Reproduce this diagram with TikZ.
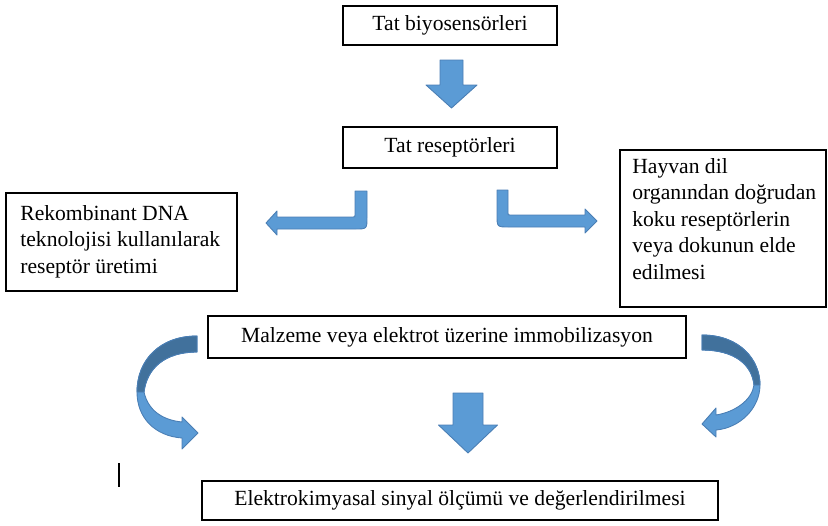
\documentclass[tikz,border=0pt]{standalone}
\usepackage{fontspec}
\setmainfont{Liberation Serif}
\usepackage{tikz}

\definecolor{okmavi}{HTML}{5B9BD5}
\definecolor{okkoyu}{HTML}{41719C}
\definecolor{okkenar}{HTML}{4A7EB4}

\tikzset{
    kutu/.style={draw=black, line width=0.8pt, inner sep=0pt},
    yazi/.style={inner sep=0pt, align=left, anchor=north west},
    blok/.style={fill=okmavi, draw=okkenar, line width=0.5pt, line join=round},
    arka/.style={fill=okkoyu, draw=okkenar, line width=0.5pt}
}

\begin{document}
\begin{tikzpicture}[x=0.02cm, y=-0.02cm]
        \useasboundingbox (0,0) rectangle (828,525);
        \begin{scope}[font=\fontsize{12.3}{15.1}\selectfont]
        % Boxes:
        % each box is a named node, sizes taken from the drawing
        \node[kutu, minimum width={214*0.02cm}, minimum height={39*0.02cm}]
            (biyo) at (450,25.5) {Tat biyosensörleri};
        \node[kutu, minimum width={214*0.02cm}, minimum height={41*0.02cm}]
            (resep) at (450,147.5) {Tat reseptörleri};
        \node[kutu, minimum width={231*0.02cm}, minimum height={98*0.02cm}]
            (rekom) at (121.5,242) {};
        \node[yazi] (rekomyazi) at (20,205)
            {Rekombinant DNA\\teknolojisi kullanılarak\\reseptör üretimi};
        \node[kutu, minimum width={206*0.02cm}, minimum height={157*0.02cm}]
            (hayvan) at (723,228.5) {};
        \node[yazi] (hayvanyazi) at (632,158)
            {Hayvan dil\\organından doğrudan\\koku reseptörlerin\\veya dokunun elde\\edilmesi};
        \node[kutu, minimum width={478*0.02cm}, minimum height={42*0.02cm}]
            (immob) at (447,337) {Malzeme veya elektrot üzerine immobilizasyon};
        \node[kutu, minimum width={516*0.02cm}, minimum height={39*0.02cm}]
            (olcum) at (460,500.5) {Elektrokimyasal sinyal ölçümü ve değerlendirilmesi};

        % straight down arrows
        \foreach \cx/\ust/\orta/\uc/\sw/\hw in {451.5/60/85/108/11.5/25.5, 468/393/425/453/15/29.5} {
                \draw[blok] (\cx-\sw,\ust) -- (\cx+\sw,\ust) -- (\cx+\sw,\orta)
                    -- (\cx+\hw,\orta) -- (\cx,\uc) -- (\cx-\hw,\orta)
                    -- (\cx-\sw,\orta) -- cycle;
        }

        % bent arrows
        \draw[blok] (355,191) -- (367,191) -- (367,217)
            .. controls (367,229) .. (355,229) -- (277,229) -- (277,235)
            -- (266,223) -- (277,211) -- (277,217) -- (353,217)
            .. controls (355,217) .. (355,215) -- cycle;
        \draw[blok] (497,190) -- (497,215)
            .. controls (497,227) .. (509,227) -- (585,227) -- (585,233)
            -- (597,221) -- (585,209) -- (585,215) -- (510,215)
            .. controls (508,215) .. (508,213) -- (508,190) -- cycle;

        % curved arrows
        \draw[blok] (197,336) .. controls (160,336) and (137,360) .. (137,392)
            .. controls (137,418) and (155,436) .. (182,438) -- (182,449)
            -- (198,433) -- (182,417) -- (182,422)
            .. controls (162,420) and (148,410) .. (144,392)
            .. controls (147,368) and (165,352) .. (197,352) -- cycle;
        \draw[arka] (197,336) .. controls (160,336) and (137,360) .. (137,392)
            -- (144,392) .. controls (147,368) and (165,352) .. (197,352) -- cycle;
        \draw[blok] (702,335) .. controls (740,335) and (760,360) .. (760,385)
            .. controls (760,408) and (740,428) .. (716,430) -- (716,437)
            -- (702,424) -- (716,408) -- (716,415)
            .. controls (735,412) and (752,400) .. (754,385)
            .. controls (752,365) and (735,350) .. (702,350) -- cycle;
        \draw[arka] (702,335) .. controls (740,335) and (760,360) .. (760,385)
            -- (754,385) .. controls (752,365) and (735,350) .. (702,350) -- cycle;

        % cursor mark
        \coordinate (imlecust) at (119,463);
        \coordinate (imlecalt) at (119,487);
        \draw[line width=0.8pt] (imlecust) -- (imlecalt);
        \end{scope}
\end{tikzpicture}
\end{document}
